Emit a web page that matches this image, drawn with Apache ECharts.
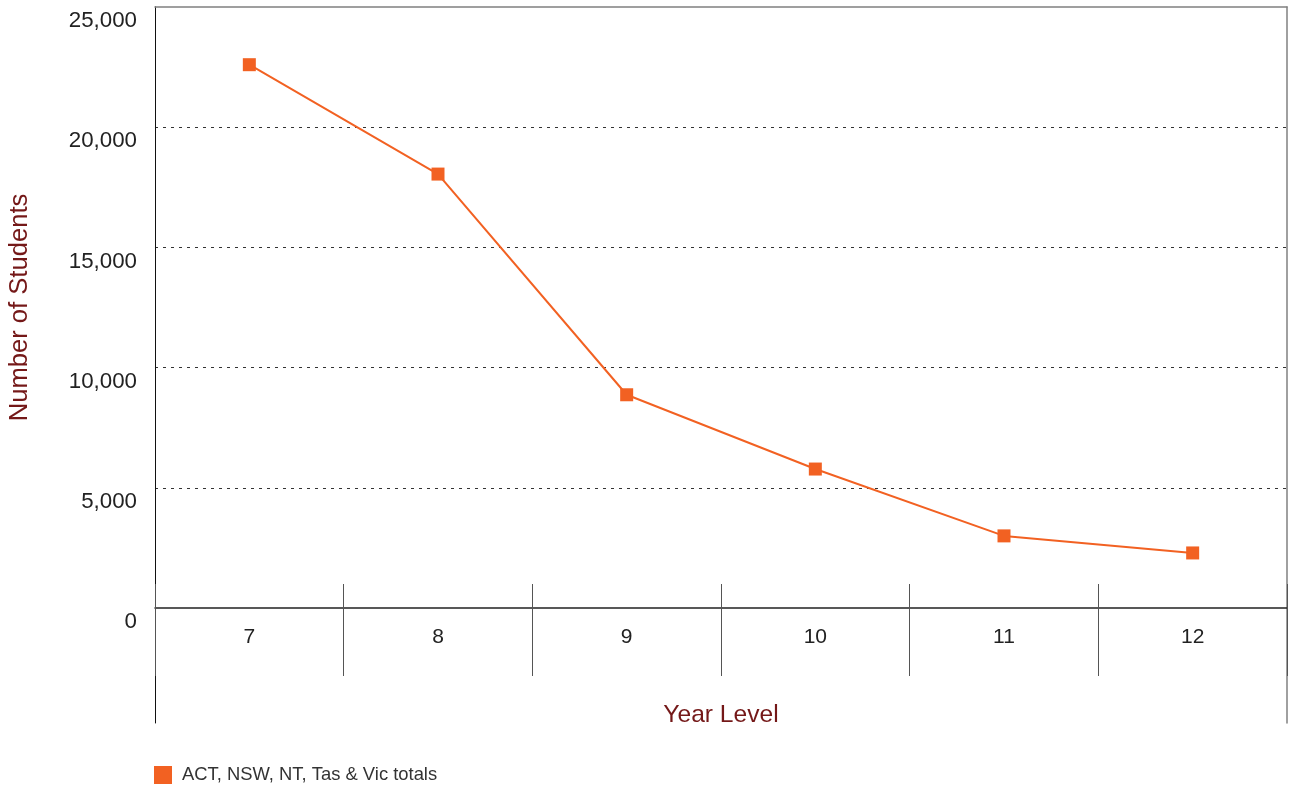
<!DOCTYPE html>
<html>
<head>
<meta charset="utf-8">
<title>Number of Students by Year Level</title>
<script src="https://cdn.jsdelivr.net/npm/echarts@6/dist/echarts.min.js"></script>
<style>
  html, body { margin: 0; padding: 0; background: #ffffff; }
  #chart { width: 1290px; height: 789px; }
</style>
</head>
<body>
<div id="chart"></div>
<script>
// Year levels along the category axis
const yearLevels = ['7', '8', '9', '10', '11', '12'];
// Combined student totals per year level
const studentTotals = [22600, 18050, 8870, 5780, 3000, 2290];
// Value axis range and step
const yMin = 0;
const yMax = 25000;
const yStep = 5000;
const seriesName = 'ACT, NSW, NT, Tas & Vic totals';

const FONT = '"Liberation Sans", Arial, Helvetica, sans-serif';
const ORANGE = '#f26122';
const TITLE_RED = '#741818';

const chart = echarts.init(document.getElementById('chart'), null, { renderer: 'canvas' });

// Dotted gridlines only between the frame edges (0 and 25,000 are drawn by the axis/frame)
const gridColors = [];
for (let v = yMin; v <= yMax; v += yStep) {
  gridColors.push(v === yMin || v === yMax ? 'rgba(0,0,0,0)' : '#333333');
}

chart.setOption({
  animation: false,
  backgroundColor: '#ffffff',
  textStyle: { fontFamily: FONT },
  grid: [
    // main plotting area
    { left: 155, right: 3, top: 7, bottom: 181, containLabel: false, outerBoundsMode: 'none' },
    // taller frame that carries the side rules down past the category labels
    { left: 155, right: 3, top: 7, bottom: 66, containLabel: false, outerBoundsMode: 'none' }
  ],
  legend: {
    left: 154,
    top: 766,
    padding: 0,
    itemWidth: 18,
    itemHeight: 18,
    icon: 'rect',
    data: [seriesName],
    textStyle: { fontSize: 18.4, color: '#333333', fontFamily: FONT, padding: [0, 0, 0, 5] }
  },
  xAxis: [
    {
      gridIndex: 0,
      type: 'category',
      data: yearLevels,
      position: 'bottom',
      boundaryGap: true,
      name: 'Year Level',
      nameLocation: 'middle',
      nameGap: 95,
      nameTextStyle: { fontSize: 24.6, color: TITLE_RED, fontFamily: FONT },
      axisLine: { show: true, onZero: false, lineStyle: { color: '#222222', width: 1.5 } },
      axisTick: { show: true, inside: false, length: 68, lineStyle: { color: '#555555', width: 1 } },
      axisLabel: { fontSize: 21, color: '#222222', margin: 19, fontFamily: FONT },
      splitLine: { show: false }
    },
    {
      gridIndex: 0,
      type: 'category',
      data: yearLevels,
      position: 'bottom',
      boundaryGap: true,
      axisLine: { show: false, onZero: false },
      axisTick: { show: true, inside: true, length: 24, lineStyle: { color: '#555555', width: 1 } },
      axisLabel: { show: false },
      splitLine: { show: false }
    },
    {
      gridIndex: 0,
      type: 'category',
      data: yearLevels,
      position: 'top',
      axisLine: { show: true, onZero: false, lineStyle: { color: '#808080', width: 1.5 } },
      axisTick: { show: false },
      axisLabel: { show: false },
      splitLine: { show: false }
    },
    {
      gridIndex: 1,
      type: 'category',
      data: yearLevels,
      show: false
    }
  ],
  yAxis: [
    {
      gridIndex: 0,
      type: 'value',
      min: yMin,
      max: yMax,
      interval: yStep,
      name: 'Number of Students',
      nameLocation: 'middle',
      nameGap: 122,
      nameTextStyle: { fontSize: 25.6, color: TITLE_RED, fontFamily: FONT },
      axisLine: { show: true, lineStyle: { color: '#111111', width: 1 } },
      axisTick: { show: false },
      axisLabel: {
        fontSize: 22.3,
        color: '#222222',
        margin: 18,
        fontFamily: FONT,
        verticalAlign: 'top',
        lineHeight: 28,
        formatter: v => v.toLocaleString('en-US')
      },
      splitLine: { show: true, lineStyle: { color: gridColors, type: [3, 5], width: 1 } }
    },
    {
      gridIndex: 1,
      type: 'value',
      position: 'left',
      min: 0,
      max: 1,
      axisLine: { show: true, lineStyle: { color: '#111111', width: 1 } },
      axisTick: { show: false },
      axisLabel: { show: false },
      splitLine: { show: false }
    },
    {
      gridIndex: 1,
      type: 'value',
      position: 'right',
      min: 0,
      max: 1,
      axisLine: { show: true, lineStyle: { color: '#808080', width: 1.5 } },
      axisTick: { show: false },
      axisLabel: { show: false },
      splitLine: { show: false }
    }
  ],
  series: [
    {
      name: seriesName,
      type: 'line',
      xAxisIndex: 0,
      yAxisIndex: 0,
      data: studentTotals,
      symbol: 'rect',
      symbolSize: 13,
      showSymbol: true,
      itemStyle: { color: ORANGE },
      lineStyle: { color: ORANGE, width: 2 },
      z: 5
    }
  ]
});
</script>
</body>
</html>
